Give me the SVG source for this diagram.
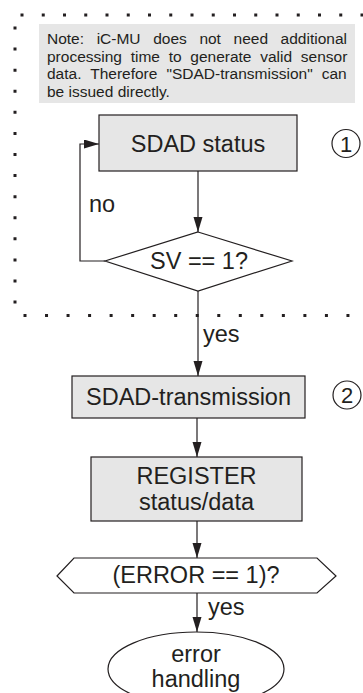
<svg xmlns="http://www.w3.org/2000/svg" width="363" height="693" viewBox="0 0 363 693">
<style>
.ln{fill:none;stroke:#231f20;stroke-width:1.2}
.box{fill:#e6e6e6;stroke:#231f20;stroke-width:1.2}
.shape{fill:#ffffff;stroke:#231f20;stroke-width:1.2}
.t{font-family:"Liberation Sans",Arial,sans-serif;font-size:23.5px;fill:#231f20}
.c{text-anchor:middle}
.note{font-family:"Liberation Sans",Arial,sans-serif;font-size:15.5px;fill:#231f20}
.dot{fill:none;stroke:#231f20;stroke-width:3}
</style>
<defs>
<marker id="ah" markerUnits="userSpaceOnUse" markerWidth="15" markerHeight="10" refX="15" refY="4.5" orient="auto">
<path d="M0,0 L15,4.5 L0,9 z" fill="#231f20"/>
</marker>
</defs>
<g id="frame">
<path class="dot" d="M20.5,15 H363" stroke-dasharray="3 18.25"/>
<path class="dot" d="M15,26.5 V305" stroke-dasharray="3 18.08"/>
<path class="dot" d="M23.5,315.5 H363" stroke-dasharray="3 18.53"/>
</g>
<g id="note">
<rect x="39" y="24" width="316" height="79" fill="#e6e6e6"/>
<text class="note" x="47" y="44" word-spacing="8.3">Note: iC-MU does not need additional</text>
<text class="note" x="47" y="61.5" word-spacing="4.4">processing time to generate valid sensor</text>
<text class="note" x="47" y="79" word-spacing="4.7">data. Therefore "SDAD-transmission" can</text>
<text class="note" x="47" y="96.5">be issued directly.</text>
</g>
<g id="connectors">
<path class="ln" d="M198,171 V232" marker-end="url(#ah)"/>
<path class="ln" d="M105,261 H80 V144 H99" marker-end="url(#ah)"/>
<path class="ln" d="M198,291 V376" marker-end="url(#ah)"/>
<path class="ln" d="M197,418 V457" marker-end="url(#ah)"/>
<path class="ln" d="M197,521 V558" marker-end="url(#ah)"/>
<path class="ln" d="M197,593 V632" marker-end="url(#ah)"/>
<text class="t" x="89" y="212">no</text>
<text class="t" x="203" y="342">yes</text>
<text class="t" x="208" y="615">yes</text>
</g>
<g id="sdad-status">
<rect class="box" x="99" y="115" width="198" height="56"/>
<text class="t c" x="198" y="152">SDAD status</text>
</g>
<g id="marker1">
<circle class="shape" cx="346" cy="143.5" r="14"/>
<text class="t c" x="346" y="152" style="font-size:22px">1</text>
</g>
<g id="sv-decision">
<polygon class="shape" points="198,232 292,261 198,291 105,261"/>
<text class="t c" x="199" y="269">SV == 1?</text>
</g>
<g id="sdad-transmission">
<rect class="box" x="72" y="376" width="233" height="42"/>
<text class="t c" x="188.5" y="405">SDAD-transmission</text>
</g>
<g id="marker2">
<circle class="shape" cx="347" cy="395" r="14"/>
<text class="t c" x="347" y="403" style="font-size:22px">2</text>
</g>
<g id="register">
<rect class="box" x="91" y="457" width="211" height="64"/>
<text class="t c" x="196.5" y="484">REGISTER</text>
<text class="t c" x="196.5" y="510">status/data</text>
</g>
<g id="error-decision">
<polygon class="shape" points="57,576 74,558 317,558 336,576 317,593 74,593"/>
<text class="t c" x="196" y="583">(ERROR == 1)?</text>
</g>
<g id="error-handling">
<ellipse class="shape" cx="196" cy="669" rx="88" ry="37"/>
<text class="t c" x="196" y="662">error</text>
<text class="t c" x="196" y="687">handling</text>
</g>
</svg>
